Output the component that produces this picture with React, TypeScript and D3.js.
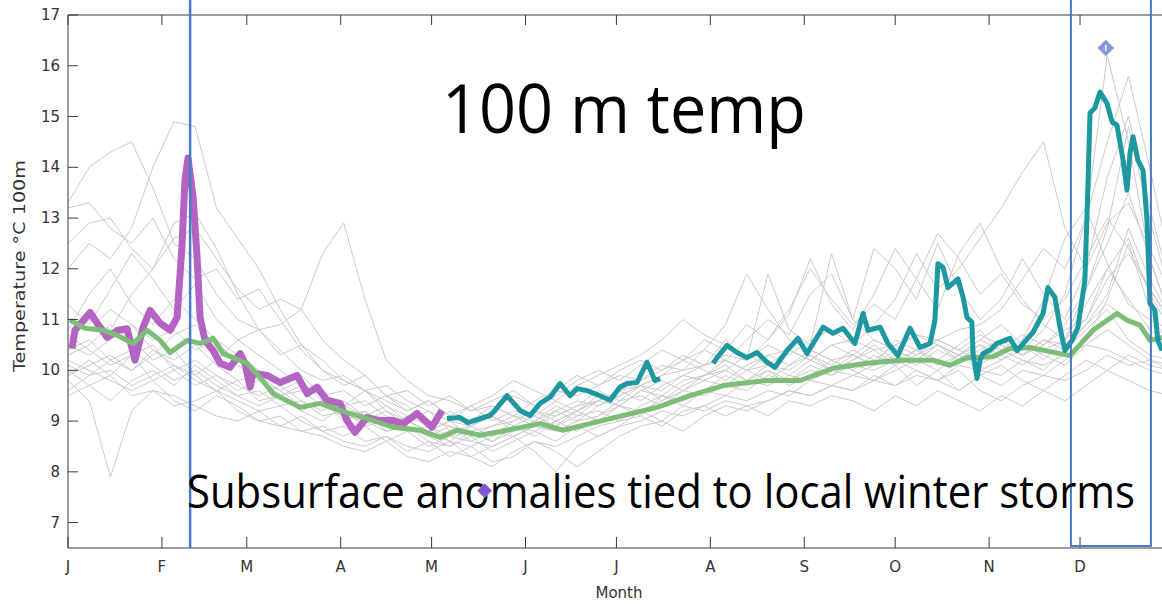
import React from 'react';
import * as d3 from 'd3';

const monthLabels = ['J', 'F', 'M', 'A', 'M', 'J', 'J', 'A', 'S', 'O', 'N', 'D'];
const monthStartDays = [0, 31, 59, 90, 120, 151, 181, 212, 243, 273, 304, 334];
const yTicks = [7, 8, 9, 10, 11, 12, 13, 14, 15, 16, 17];

// Other years, one value per week (day = index * 7)
const grayStepDays = 7;
const grayYears: number[][] = [
  [12.0, 12.5, 12.2, 12.8, 14.0, 14.9, 14.8, 13.2, 12.6, 12.0, 11.2, 10.5, 10.2, 9.8, 9.6, 9.3, 9.1, 9.0, 8.9, 8.8, 8.9, 9.0, 9.2, 9.1, 9.3, 9.4, 9.6, 9.7, 9.9, 10.0, 10.1, 10.2, 10.0, 10.3, 10.4, 10.2, 10.5, 10.6, 10.4, 10.5, 10.7, 10.6, 10.8, 10.9, 11.2, 11.8, 12.4, 12.0, 13.0, 14.5, 15.8, 14.0, 12.0],
  [13.3, 14.0, 14.3, 14.5, 13.6, 12.5, 12.2, 11.5, 11.0, 10.8, 10.9, 11.2, 12.3, 12.9, 11.4, 10.2, 9.8, 9.5, 9.4, 9.2, 9.3, 9.1, 9.4, 9.6, 9.5, 9.7, 9.9, 9.8, 10.0, 10.2, 10.4, 10.9, 11.9, 11.2, 10.6, 10.4, 10.2, 10.3, 10.1, 10.6, 10.4, 10.2, 10.5, 10.8, 10.3, 10.6, 11.4, 12.6, 13.2, 12.1, 11.3, 11.0, 10.8],
  [13.2, 13.3, 12.8, 12.5, 13.0, 12.2, 11.8, 12.0, 11.4, 11.6, 11.0, 10.4, 10.0, 9.8, 9.6, 9.7, 9.4, 9.2, 9.0, 9.3, 9.5, 9.8, 9.6, 9.4, 9.7, 9.9, 10.1, 10.3, 10.6, 11.0, 10.7, 10.5, 10.2, 10.6, 11.1, 12.2, 11.3, 10.8, 11.5, 12.4, 11.8, 11.2, 12.3, 12.9, 12.0, 11.4, 10.9, 10.6, 11.6, 12.8, 14.8, 13.0, 11.4],
  [12.5, 12.9, 13.0, 12.4, 12.0, 12.6, 12.8, 12.2, 11.6, 11.2, 11.4, 11.2, 10.6, 10.2, 9.9, 9.5, 9.3, 8.9, 8.6, 8.5, 8.7, 8.9, 8.8, 9.0, 9.2, 9.4, 9.3, 9.6, 9.5, 9.8, 9.9, 10.2, 10.0, 9.8, 10.1, 10.3, 10.0, 10.2, 10.4, 10.1, 10.3, 10.5, 10.2, 10.4, 10.6, 10.3, 10.5, 10.9, 11.6, 12.5, 13.5, 12.2, 11.0],
  [9.8, 9.4, 7.9, 9.2, 9.6, 9.5, 9.3, 9.1, 9.0, 9.2, 8.9, 8.8, 8.7, 8.5, 8.4, 8.6, 8.3, 8.2, 8.4, 8.3, 8.1, 8.4, 8.6, 8.5, 8.7, 8.9, 9.0, 9.1, 8.9, 9.2, 9.3, 9.1, 9.3, 9.4, 9.6, 9.5, 9.7, 9.6, 9.8, 9.7, 9.9, 9.8, 10.0, 9.6, 9.4, 9.7, 9.9, 9.8, 10.0, 10.3, 10.1, 10.2, 10.0],
  [10.2, 10.0, 9.8, 9.6, 9.8, 9.4, 9.2, 9.5, 9.3, 9.0, 9.1, 8.8, 8.9, 8.7, 8.9, 8.6, 8.8, 8.5, 8.7, 8.6, 8.8, 8.7, 8.9, 8.8, 9.0, 9.1, 9.3, 9.2, 9.4, 9.6, 9.5, 9.7, 9.6, 9.9, 9.8, 10.0, 9.9, 10.1, 10.0, 10.2, 10.0, 9.8, 10.1, 10.0, 9.9, 10.2, 10.1, 10.3, 10.5, 10.4, 10.2, 10.0, 9.9],
  [9.9, 10.1, 10.3, 10.0, 10.4, 10.1, 9.9, 10.2, 10.6, 10.3, 10.0, 9.7, 9.5, 9.3, 9.4, 9.1, 9.0, 8.8, 9.0, 8.9, 8.7, 9.0, 9.2, 9.0, 8.8, 9.1, 9.4, 9.5, 9.3, 9.6, 9.8, 9.7, 10.0, 10.1, 9.9, 10.2, 10.0, 10.3, 10.1, 10.4, 10.2, 10.5, 10.3, 10.1, 10.4, 10.2, 10.0, 10.4, 10.8, 11.2, 10.6, 10.3, 10.2],
  [10.6, 11.0, 10.8, 11.5, 12.0, 12.9, 13.1, 12.4, 11.5, 10.8, 10.4, 10.0, 9.8, 9.9, 9.6, 9.4, 9.2, 9.4, 9.1, 8.9, 9.1, 8.8, 9.0, 9.3, 9.1, 9.4, 9.6, 9.4, 9.7, 9.9, 9.8, 10.0, 10.3, 10.1, 10.4, 10.2, 10.5, 10.3, 10.6, 10.4, 10.2, 10.5, 10.3, 10.6, 10.9, 10.5, 10.2, 10.6, 11.3, 12.0, 12.6, 11.5, 10.8],
  [10.0, 9.7, 9.9, 9.5, 9.6, 9.3, 9.4, 9.6, 9.2, 9.0, 8.9, 9.1, 8.8, 8.6, 8.5, 8.7, 8.4, 8.6, 8.3, 8.5, 8.2, 8.3, 8.6, 8.4, 8.1, 8.4, 8.7, 8.9, 9.0, 8.8, 9.1, 9.3, 9.2, 9.4, 9.6, 9.5, 9.7, 9.9, 9.8, 10.0, 10.2, 10.0, 10.3, 10.5, 10.2, 10.4, 10.8, 11.5, 13.0, 16.2, 14.5, 12.2, 11.0],
  [10.4, 10.6, 10.2, 10.0, 10.3, 10.7, 10.9, 10.5, 10.2, 9.9, 9.6, 9.8, 9.4, 9.2, 9.0, 9.2, 8.9, 8.7, 8.9, 8.6, 8.5, 8.7, 8.9, 9.2, 9.0, 9.3, 9.5, 9.7, 9.4, 9.7, 9.9, 10.1, 9.8, 10.0, 9.7, 9.9, 10.2, 10.0, 9.8, 10.1, 9.7, 10.0, 9.6, 9.9, 10.1, 9.8, 9.6, 9.9, 10.2, 10.0, 10.3, 10.1, 10.0],
  [11.0, 10.8, 11.2, 10.9, 10.6, 10.8, 10.4, 10.6, 10.1, 9.8, 9.6, 9.3, 9.4, 9.1, 9.0, 8.8, 8.9, 8.7, 8.5, 8.8, 8.6, 8.9, 9.1, 8.9, 9.2, 9.4, 9.6, 9.8, 10.1, 10.0, 10.4, 10.2, 10.6, 11.0, 10.7, 11.5, 11.9, 11.0, 12.4, 12.0, 11.4, 12.5, 11.6, 11.0, 11.4, 12.2, 11.5, 11.0, 12.0, 13.8, 15.0, 13.2, 11.6],
  [10.5, 10.3, 10.6, 10.9, 10.4, 10.2, 10.5, 10.1, 9.8, 9.9, 9.5, 9.6, 9.3, 9.1, 9.2, 8.9, 9.0, 8.8, 9.0, 8.7, 8.9, 9.1, 9.0, 9.2, 9.4, 9.3, 9.5, 9.7, 9.6, 9.9, 10.1, 10.3, 10.2, 10.5, 10.3, 10.6, 10.8, 10.5, 10.9, 11.4, 12.3, 11.6, 12.0, 12.6, 13.2, 13.9, 14.5, 12.8, 12.0, 12.9, 13.3, 12.4, 11.5],
  [10.8, 11.5, 12.0, 11.3, 10.9, 11.4, 11.0, 10.6, 10.3, 10.0, 9.7, 9.9, 9.5, 9.3, 9.6, 9.2, 9.0, 9.2, 8.8, 8.9, 9.2, 9.5, 9.3, 9.6, 9.9, 9.7, 10.0, 10.2, 10.0, 10.3, 10.1, 10.6, 10.2, 11.9, 10.8, 10.5, 12.3, 11.0, 10.6, 10.4, 10.7, 10.5, 10.3, 10.6, 10.4, 10.7, 10.5, 10.8, 11.0, 11.8, 12.3, 11.6, 10.9],
  [10.1, 9.9, 10.0, 9.7, 9.9, 10.1, 9.8, 9.6, 9.4, 9.2, 9.3, 9.0, 8.8, 8.9, 8.6, 8.7, 8.5, 8.4, 8.6, 8.3, 8.5, 8.7, 8.4, 8.0, 8.5, 8.7, 8.9, 9.0, 9.2, 9.1, 9.3, 9.5, 9.4, 9.6, 9.5, 9.8, 9.7, 9.6, 9.9, 9.7, 10.0, 9.8, 9.6, 9.9, 9.7, 10.0, 9.9, 10.2, 10.6, 11.4, 12.5, 11.2, 10.4],
  [9.6, 9.9, 10.2, 10.4, 10.1, 9.8, 10.0, 9.7, 9.5, 9.6, 9.3, 9.4, 9.1, 9.2, 8.9, 9.0, 8.8, 8.9, 8.7, 8.8, 8.6, 8.8, 9.0, 8.9, 9.1, 9.2, 9.0, 9.3, 9.5, 9.4, 9.6, 9.5, 9.8, 9.7, 9.9, 9.8, 10.0, 9.9, 10.1, 10.3, 10.1, 10.4, 10.2, 10.5, 10.3, 10.1, 10.4, 10.6, 11.0, 12.0, 11.4, 10.8, 10.5],
  [10.7, 10.4, 10.1, 10.3, 10.5, 10.0, 10.2, 9.9, 9.7, 9.5, 9.7, 9.4, 9.2, 9.4, 9.1, 8.9, 9.1, 8.9, 9.2, 9.0, 9.3, 9.1, 8.9, 9.1, 9.3, 9.6, 9.4, 9.7, 9.9, 10.2, 10.0, 9.8, 10.1, 10.3, 10.1, 10.4, 10.2, 10.0, 10.3, 10.1, 10.4, 10.6, 10.4, 10.2, 10.5, 10.3, 10.6, 10.4, 10.9, 11.3, 11.0, 10.7, 10.4],
  [10.3, 10.5, 10.9, 10.6, 10.2, 10.4, 9.9, 9.6, 9.8, 9.4, 9.5, 9.2, 9.0, 9.3, 9.1, 9.3, 9.0, 8.8, 8.6, 8.9, 9.1, 8.9, 8.7, 9.0, 9.2, 9.0, 9.3, 9.1, 9.5, 9.3, 9.6, 9.9, 9.7, 10.0, 9.8, 10.1, 9.9, 10.2, 10.5, 10.2, 10.4, 10.1, 10.3, 10.0, 10.2, 10.5, 10.3, 10.1, 10.5, 10.8, 10.5, 10.2, 10.1],
  [9.5, 9.7, 9.4, 9.8, 10.0, 9.7, 10.1, 9.8, 9.5, 9.3, 9.5, 9.2, 9.4, 9.0, 9.2, 8.8, 8.9, 8.6, 8.5, 8.7, 8.4, 8.6, 8.8, 8.6, 8.9, 8.7, 8.9, 9.2, 9.0, 9.3, 9.2, 9.4, 9.3, 9.1, 9.4, 9.3, 9.5, 9.4, 9.2, 9.5, 9.3, 9.6, 9.4, 9.2, 9.5, 9.3, 9.6, 9.4, 9.7, 10.0, 9.8, 9.6, 9.5],
  [11.3, 10.9, 11.6, 12.3, 11.8, 11.2, 11.7, 11.0, 10.6, 10.8, 10.3, 10.5, 10.0, 9.7, 9.9, 9.5, 9.6, 9.3, 9.5, 9.2, 9.4, 9.6, 9.3, 9.5, 9.8, 10.0, 9.8, 10.1, 10.4, 10.2, 10.6, 10.4, 10.9, 10.6, 11.2, 12.0, 11.4, 10.9, 11.3, 11.0, 11.8, 12.7, 12.2, 11.5, 11.9, 11.3, 11.0, 11.4, 12.2, 13.0, 12.4, 11.6, 11.0],
  [9.9, 10.2, 9.9, 10.3, 9.8, 10.0, 9.7, 9.9, 9.6, 9.8, 9.5, 9.7, 9.5, 9.6, 9.3, 9.5, 9.2, 9.4, 9.1, 9.3, 9.0, 9.2, 9.1, 9.4, 9.2, 9.5, 9.3, 9.6, 9.8, 9.6, 9.9, 10.0, 9.8, 10.1, 10.0, 10.3, 10.1, 10.4, 10.2, 10.5, 10.3, 10.6, 10.4, 10.7, 10.5, 10.3, 10.6, 10.5, 10.9, 11.5, 12.8, 11.8, 11.0],
];

// Climatological mean [day of year, °C]
const meanSeries: [number, number][] = [
  [0.7, 10.99], [5.6, 10.83], [11.6, 10.79], [16.2, 10.69], [21.5, 10.53], [26.1, 10.79], [30.4, 10.59],
  [33.7, 10.35], [39.3, 10.59], [43.6, 10.53], [47.9, 10.63], [51.2, 10.33], [59.1, 10.14], [63.4, 9.86],
  [67.7, 9.54], [76.6, 9.27], [83.2, 9.35], [89.8, 9.21], [98.7, 9.05], [107.3, 8.88], [116.2, 8.82],
  [122.8, 8.68], [128.4, 8.82], [136, 8.72], [144.9, 8.82], [155.8, 8.95], [163.4, 8.82], [172.3, 8.95],
  [183.2, 9.11], [194.4, 9.27], [205.3, 9.5], [216.2, 9.7], [230.7, 9.8], [241.6, 9.8], [252.5, 10.04],
  [263.7, 10.14], [274.6, 10.2], [285.5, 10.2], [291.1, 10.1], [296.7, 10.25], [305.3, 10.27],
  [310.9, 10.43], [317.5, 10.45], [327.4, 10.33], [330.7, 10.29], [338.3, 10.79], [346.2, 11.12],
  [349.5, 10.99], [353.8, 10.89], [357.1, 10.59], [361.1, 10.65],
];

// Current year, winter part (purple)
const purpleSeries: [number, number][] = [
  [1.3, 10.43], [2.3, 10.79], [7.3, 11.14], [9.6, 10.93], [12.9, 10.65], [16.5, 10.79], [19.5, 10.82],
  [22.1, 10.2], [24.8, 10.85], [27.1, 11.18], [30.4, 10.93], [33.7, 10.79], [36, 11.04], [37.6, 12.42],
  [38.6, 13.75], [39.6, 14.18], [41.3, 13.41], [42.6, 12.22], [43.6, 11.04], [45.2, 10.59], [47.9, 10.39],
  [50.2, 10.14], [53.5, 10.06], [56.8, 10.33], [58.4, 10.14], [60.1, 9.67], [61, 9.94], [65.7, 9.9],
  [70, 9.76], [75.6, 9.9], [78.9, 9.54], [82.2, 9.67], [85.5, 9.41], [89.8, 9.35], [92.1, 9.01],
  [94.7, 8.78], [98.7, 9.07], [103, 9.01], [107.3, 9.01], [110.6, 8.95], [115.2, 9.15], [120.1, 8.88],
  [123.4, 9.21],
];

// Current year, later parts (teal)
const tealSeriesA: [number, number][] = [
  [125.1, 9.05], [129.4, 9.07], [132, 8.97], [136, 9.05], [139.3, 9.11], [140.9, 9.21], [144.9, 9.5],
  [149.2, 9.21], [152.5, 9.11], [155.8, 9.35], [159.1, 9.47], [162.4, 9.74], [165.7, 9.5], [168, 9.64],
  [171.3, 9.6], [175.6, 9.5], [178.9, 9.41], [182.2, 9.67], [184.5, 9.74], [187.8, 9.76], [191.1, 10.16],
  [192.7, 9.94], [193.7, 9.8], [195.4, 9.84],
];
const tealSeriesB: [number, number][] = [
  [212.9, 10.14], [214.2, 10.25], [217.5, 10.49], [220.8, 10.35], [224.1, 10.25], [227.4, 10.35],
  [230.7, 10.16], [233.3, 10.06], [237.3, 10.39], [240.9, 10.63], [243.9, 10.33], [245.9, 10.53],
  [249.2, 10.85], [252.5, 10.73], [255.8, 10.83], [259.7, 10.53], [262.4, 11.12], [264, 10.79],
  [268, 10.85], [270.6, 10.53], [273.9, 10.29], [277.9, 10.83], [281.2, 10.45], [284.5, 10.53],
  [286.1, 10.98], [287.1, 12.1], [288.8, 12.03], [290.4, 11.63], [293.7, 11.8], [295.4, 11.44],
  [296.7, 11.04], [298.3, 10.95], [298.7, 10.33], [300, 9.84], [301, 10.2], [302, 10.33], [304.3, 10.4],
  [306.6, 10.53], [310.9, 10.63], [313.2, 10.39], [318.5, 10.75], [321.8, 11.12], [323.4, 11.63],
  [325.7, 11.44], [327.4, 10.85], [329, 10.39], [331.4, 10.59], [333.3, 10.85], [335.6, 11.77],
  [336.6, 13.6], [337.3, 15.07], [338.9, 15.17], [340.6, 15.48], [342.9, 15.26], [344.6, 14.89],
  [346.2, 14.83], [348.2, 14.14], [349.5, 13.55], [350.5, 14.28], [351.5, 14.6], [353.1, 14.14],
  [354.8, 13.94], [356.1, 12.96], [357.1, 11.32], [358.7, 11.18], [359.7, 10.59], [361.1, 10.39],
];

const lowMarker: [number, number] = [137.5, 7.63];
const highMarker: [number, number] = [342.5, 16.35];
const stormLineDay = 40.3;
const stormBoxDays: [number, number] = [331, 357.4];

const W = 1162;
const H = 604;

export default function App() {
  const x = d3.scaleLinear().domain([0, 365]).range([68, 68 + 365 * 3.03]);
  const y = d3.scaleLinear().domain([6.5, 17]).range([548, 15]);
  const line = d3
    .line<[number, number]>()
    .x((d) => x(d[0]))
    .y((d) => y(d[1]));

  const grayPaths = grayYears.map((vals) =>
    line(vals.map((v, i) => [i * grayStepDays, v] as [number, number]))
  );

  const axisColor = '#3a3a3a';
  const tickFont = 'DejaVu Sans, Liberation Sans, sans-serif';
  const x0 = x(0);
  const yTop = y(17);
  const yBot = y(6.5);
  const diamond = (cx: number, cy: number, r: number) =>
    `M${cx},${cy - r}L${cx + r},${cy}L${cx},${cy + r}L${cx - r},${cy}Z`;

  return (
    <svg
      width={W}
      height={H}
      style={{ position: 'absolute', left: 0, top: 0, background: '#fff' }}
    >
      <rect x={0} y={0} width={W} height={H} fill="#fff" />
      <defs>
        <clipPath id="plotclip">
          <rect x={x0} y={yTop} width={W - x0} height={yBot - yTop} />
        </clipPath>
      </defs>

      <g clipPath="url(#plotclip)">
        {grayPaths.map((p, i) => (
          <path key={i} d={p || ''} fill="none" stroke="#cbcbcb" strokeWidth={1} />
        ))}
        <path d={line(purpleSeries) || ''} fill="none" stroke="#b463c2" strokeWidth={7} strokeLinejoin="round" />
        <path d={line(meanSeries) || ''} fill="none" stroke="#7cbd77" strokeWidth={5} strokeLinejoin="round" />
        <path d={line(tealSeriesA) || ''} fill="none" stroke="#1c98a0" strokeWidth={5} strokeLinejoin="round" />
        <path d={line(tealSeriesB) || ''} fill="none" stroke="#1c98a0" strokeWidth={5} strokeLinejoin="round" />
      </g>

      {/* axes */}
      <line x1={x0} x2={W} y1={yTop} y2={yTop} stroke={axisColor} strokeWidth={1} />
      <line x1={x0} x2={W} y1={yBot} y2={yBot} stroke={axisColor} strokeWidth={1} />
      <line x1={x0} x2={x0} y1={yTop} y2={yBot} stroke={axisColor} strokeWidth={1} />
      {yTicks.map((t) => (
        <g key={t}>
          <line x1={x0} x2={x0 + 10} y1={y(t)} y2={y(t)} stroke={axisColor} strokeWidth={1} />
          <text
            x={x0 - 8}
            y={y(t)}
            textAnchor="end"
            dominantBaseline="central"
            fontFamily={tickFont}
            fontSize={15}
            fill="#333"
          >
            {t}
          </text>
        </g>
      ))}
      {monthStartDays.map((d, i) => (
        <g key={i}>
          <line x1={x(d)} x2={x(d)} y1={yBot} y2={yBot - 11} stroke={axisColor} strokeWidth={1} />
          <line x1={x(d)} x2={x(d)} y1={yTop} y2={yTop + 10} stroke={axisColor} strokeWidth={1} />
          <text
            x={x(d)}
            y={yBot + 19}
            textAnchor="middle"
            dominantBaseline="central"
            fontFamily={tickFont}
            fontSize={15}
            fill="#333"
          >
            {monthLabels[i]}
          </text>
        </g>
      ))}
      <text
        x={619}
        y={593}
        textAnchor="middle"
        dominantBaseline="central"
        fontFamily={tickFont}
        fontSize={15}
        fill="#333"
      >
        Month
      </text>
      <text
        transform={`translate(19, 266) rotate(-90)`}
        textAnchor="middle"
        dominantBaseline="central"
        fontFamily={tickFont}
        fontSize={16}
        textLength={212}
        lengthAdjust="spacingAndGlyphs"
        fill="#333"
      >
        Temperature °C 100m
      </text>

      {/* annotations */}
      <line
        x1={x(stormLineDay)}
        x2={x(stormLineDay)}
        y1={0}
        y2={yBot}
        stroke="#4a7cc4"
        strokeWidth={2.5}
      />
      <rect
        x={x(stormBoxDays[0])}
        y={-5}
        width={x(stormBoxDays[1]) - x(stormBoxDays[0])}
        height={546 + 5}
        fill="none"
        stroke="#4a7cc4"
        strokeWidth={2}
      />
      <text
        x={442}
        y={133}
        fontFamily="Open Sans, Noto Sans, sans-serif"
        fontSize={68}
        textLength={364}
        lengthAdjust="spacingAndGlyphs"
        fill="#000"
      >
        100 m temp
      </text>
      <text
        x={187}
        y={508}
        fontFamily="Open Sans, Noto Sans, sans-serif"
        fontSize={46}
        textLength={948}
        lengthAdjust="spacingAndGlyphs"
        fill="#000"
      >
        Subsurface anomalies tied to local winter storms
      </text>

      {/* markers (drawn over the text, as in the reference) */}
      <path d={diamond(x(lowMarker[0]), y(lowMarker[1]), 7)} fill="#7c55cc" stroke="#9a7ee0" strokeWidth={1} />
      <path d={diamond(x(highMarker[0]), y(highMarker[1]), 8)} fill="#8796d9" stroke="#a3afe3" strokeWidth={1} />
      <path
        d={`M${x(highMarker[0])},${y(highMarker[1]) - 3}L${x(highMarker[0])},${y(highMarker[1]) + 3}`}
        stroke="#fff"
        strokeWidth={1.5}
      />
    </svg>
  );
}
